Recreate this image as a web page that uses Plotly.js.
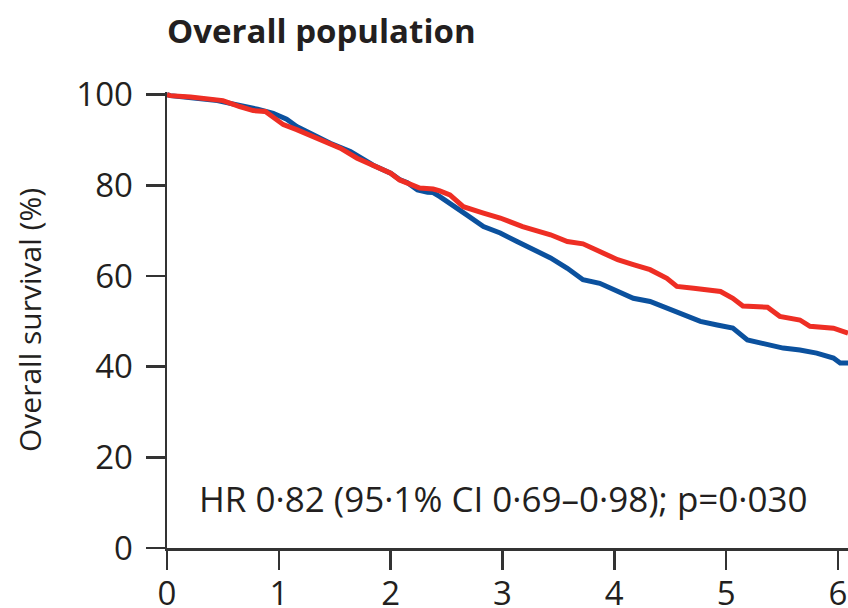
<!DOCTYPE html>
<html>
<head>
<meta charset="utf-8">
<script src="https://cdn.plot.ly/plotly-3.0.1.min.js"></script>
<style>html,body{margin:0;padding:0;background:#fff;}#chart{width:848px;height:608px;}</style>
</head>
<body>
<div id="chart"></div>
<script>
// Years since randomisation and overall survival (%)
const redTime = [0, 0.03, 0.21, 0.50, 0.65, 0.77, 0.88, 0.95, 1.04, 1.16, 1.31, 1.43, 1.55, 1.70, 1.84, 2.00, 2.08, 2.15, 2.26, 2.38, 2.44, 2.53, 2.65, 2.83, 2.98, 3.18, 3.43, 3.58, 3.72, 3.87, 4.03, 4.17, 4.32, 4.47, 4.56, 4.71, 4.86, 4.95, 5.06, 5.15, 5.37, 5.48, 5.66, 5.75, 5.96, 6.09];
const redSurv = [100, 99.8, 99.5, 98.7, 97.4, 96.5, 96.3, 95.1, 93.4, 92.3, 90.7, 89.2, 88.2, 86.0, 84.5, 82.7, 81.2, 80.5, 79.4, 79.2, 78.8, 77.9, 75.3, 73.9, 72.8, 70.9, 69.1, 67.6, 67.1, 65.4, 63.6, 62.5, 61.4, 59.5, 57.7, 57.3, 57.0, 56.6, 55.1, 53.4, 53.1, 51.1, 50.3, 48.9, 48.5, 47.4];
const blueTime = [0, 0.03, 0.45, 0.65, 0.81, 0.95, 1.07, 1.16, 1.31, 1.46, 1.64, 1.84, 2.00, 2.08, 2.15, 2.24, 2.33, 2.38, 2.44, 2.53, 2.68, 2.83, 2.98, 3.13, 3.27, 3.43, 3.58, 3.72, 3.87, 4.03, 4.17, 4.32, 4.47, 4.62, 4.77, 4.92, 5.06, 5.19, 5.37, 5.51, 5.66, 5.81, 5.96, 6.02, 6.09];
const blueSurv = [100, 99.8, 98.7, 97.8, 96.8, 95.9, 94.6, 93.0, 91.2, 89.3, 87.5, 84.5, 82.7, 81.3, 80.6, 79.0, 78.5, 78.4, 77.5, 76.1, 73.5, 70.9, 69.5, 67.6, 65.8, 64.0, 61.7, 59.2, 58.4, 56.6, 55.1, 54.4, 52.9, 51.4, 50.0, 49.2, 48.5, 45.9, 44.8, 44.1, 43.7, 43.0, 41.9, 40.8, 40.8];
const xTicks = [0, 1, 2, 3, 4, 5, 6];
const yTicks = [0, 20, 40, 60, 80, 100];
const titleText = "Overall population";
const yTitle = "Overall survival (%)";
const hrText = "HR 0·82 (95·1% CI 0·69–0·98); p=0·030";

const FONT = "Open Sans, sans-serif";
const TXT = "#231f20";

const traces = [
  {x: blueTime, y: blueSurv, type: "scatter", mode: "lines", line: {color: "#0b519e", width: 5}, hoverinfo: "skip"},
  {x: redTime, y: redSurv, type: "scatter", mode: "lines", line: {color: "#ee2e24", width: 5}, hoverinfo: "skip"}
];

const layout = {
  width: 848, height: 608,
  margin: {l: 167, r: 0, t: 92, b: 60},
  paper_bgcolor: "#fff", plot_bgcolor: "#fff",
  showlegend: false,
  font: {family: FONT, color: TXT},
  title: {text: "<b>" + titleText + "</b>", x: 0, xref: "paper", xanchor: "left", y: 0.949, yref: "container", yanchor: "middle", font: {size: 33, family: FONT, color: TXT}},
  xaxis: {
    range: [0, 6.09], tickvals: xTicks, ticktext: xTicks.map(String),
    showgrid: false, zeroline: false, showline: true, linecolor: "#333", linewidth: 2.5,
    ticks: "outside", ticklen: 19, tickwidth: 2.5, tickcolor: "#333",
    tickfont: {size: 33, color: TXT}, ticklabelstandoff: -4, fixedrange: true
  },
  yaxis: {
    range: [0, 100.6], tickvals: yTicks, ticktext: yTicks.map(String),
    showgrid: false, zeroline: false, showline: true, linecolor: "#333", linewidth: 2.5,
    ticks: "outside", ticklen: 19, tickwidth: 2.5, tickcolor: "#333",
    tickfont: {size: 33, color: TXT}, ticklabelstandoff: 6,
    title: {text: yTitle, font: {size: 30, color: TXT}, standoff: 26}, fixedrange: true
  },
  annotations: [
    {text: hrText, xref: "x", yref: "y", x: 0.27, y: 11.0, xanchor: "left", yanchor: "middle", showarrow: false, font: {size: 35, color: TXT}}
  ]
};

Plotly.newPlot("chart", traces, layout, {displayModeBar: false, staticPlot: true});
</script>
</body>
</html>
